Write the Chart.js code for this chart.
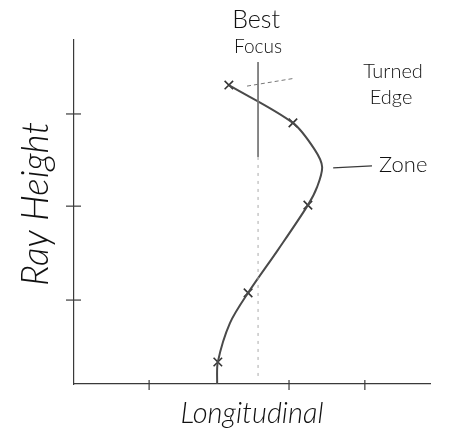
<!DOCTYPE html>
<html>
<head>
<meta charset="utf-8">
<script src="https://cdn.jsdelivr.net/npm/chart.js@4.4.1/dist/chart.umd.min.js"></script>
<style>
  html, body { margin: 0; padding: 0; background: #fff; }
  #wrap { width: 459px; height: 448px; }
</style>
</head>
<body>
<div id="wrap"><canvas id="c" width="459" height="448"></canvas></div>
<script>
// Ray-height vs. longitudinal aberration curve (arbitrary units, 0-100)
const curveX = [40.2, 40.4, 43.8, 48.9, 57.3, 65.7, 68.3, 69.7, 67.7, 61.5, 43.5];
const curveY = [0.0, 6.4, 17.7, 26.5, 39.0, 52.0, 57.3, 63.1, 68.0, 75.9, 86.9];

// Measured points marked with crosses
const markX = [40.4, 48.9, 65.7, 61.5, 43.5];
const markY = [6.4, 26.5, 52.0, 75.9, 86.9];

// Axis tick positions
const xTicks = [21.1, 60.4, 81.7];
const yTicks = [24.4, 51.7, 78.5];

// Best-focus reference line
const focusX = 51.7;
const focusTop = 93.6;
const focusSolidEnd = 66.0;
const focusSlantX = [48.6, 62.1];
const focusSlantY = [86.6, 88.9];

// Leader line for the zone label
const zoneLeadX = [72.8, 83.7];
const zoneLeadY = [62.8, 63.4];

// Labels
const labels = {
  best: 'Best', focus: 'Focus', turned: 'Turned', edge: 'Edge', zone: 'Zone',
  yTitle: 'Ray Height', xTitle: 'Longitudinal'
};

const pts = (xs, ys) => xs.map((x, i) => ({ x, y: ys[i] }));
const ink = '#3a3a3a';
const font = '"Lato", "Open Sans", sans-serif';

const sketchPlugin = {
  id: 'sketch',
  beforeDatasetsDraw(chart) {
    const { ctx, scales: { x, y } } = chart;
    ctx.save();
    ctx.strokeStyle = ink;
    ctx.lineWidth = 1.2;
    // tick crosses on the y axis
    yTicks.forEach(v => {
      const py = y.getPixelForValue(v), px = x.getPixelForValue(0);
      ctx.beginPath(); ctx.moveTo(px - 8, py); ctx.lineTo(px + 7, py); ctx.stroke();
    });
    // tick crosses on the x axis
    xTicks.forEach(v => {
      const px = x.getPixelForValue(v), py = y.getPixelForValue(0);
      ctx.beginPath(); ctx.moveTo(px, py - 4); ctx.lineTo(px, py + 6); ctx.stroke();
    });
    ctx.restore();
  },
  afterDraw(chart) {
    const { ctx, scales: { x, y } } = chart;
    ctx.save();
    ctx.fillStyle = '#111';
    ctx.textAlign = 'center';
    ctx.textBaseline = 'middle';
    const fx = x.getPixelForValue(focusX);
    ctx.font = '300 25px ' + font;
    ctx.fillText(labels.best, fx - 2, 20);
    ctx.font = '300 19px ' + font;
    ctx.fillText(labels.focus, fx, 47);
    ctx.font = '300 20px ' + font;
    ctx.fillText(labels.turned, 393, 72);
    ctx.fillText(labels.edge, 391, 98);
    ctx.font = '300 22px ' + font;
    ctx.textAlign = 'left';
    ctx.fillText(labels.zone, x.getPixelForValue(zoneLeadX[1]) + 7, y.getPixelForValue(zoneLeadY[1]) - 1);
    ctx.textAlign = 'center';
    ctx.font = 'italic 300 29px ' + font;
    ctx.fillText(labels.xTitle, 252, 414);
    ctx.translate(36, 204);
    ctx.rotate(-Math.PI / 2);
    ctx.font = 'italic 300 37px ' + font;
    ctx.fillText(labels.yTitle, 0, 0);
    ctx.restore();
  }
};

new Chart(document.getElementById('c'), {
  type: 'scatter',
  data: {
    datasets: [
      {
        label: 'focus solid',
        data: pts([focusX, focusX], [focusTop, focusSolidEnd]),
        showLine: true, borderColor: '#777', borderWidth: 1, pointRadius: 0
      },
      {
        label: 'focus dashed',
        data: pts([focusX, focusX], [focusSolidEnd, 1]),
        showLine: true, borderColor: '#aaa', borderWidth: 1, borderDash: [3, 5], pointRadius: 0
      },
      {
        label: 'focus slant',
        data: pts(focusSlantX, focusSlantY),
        showLine: true, borderColor: '#777', borderWidth: 1, borderDash: [4, 3], pointRadius: 0
      },
      {
        label: 'zone leader',
        data: pts(zoneLeadX, zoneLeadY),
        showLine: true, borderColor: ink, borderWidth: 1.2, pointRadius: 0
      },
      {
        label: 'aberration',
        data: pts(curveX, curveY),
        showLine: true, borderColor: '#4a4a4a', borderWidth: 2, tension: 0.3,
        pointRadius: 0
      },
      {
        label: 'points',
        data: pts(markX, markY),
        showLine: false, pointStyle: 'crossRot', pointRadius: 6,
        borderColor: '#333', borderWidth: 1.6
      }
    ]
  },
  options: {
    responsive: false,
    animation: false,
    layout: { padding: { left: 74, right: 29, top: 40, bottom: 64 } },
    plugins: { legend: { display: false }, tooltip: { enabled: false } },
    scales: {
      x: {
        type: 'linear', min: 0, max: 100,
        grid: { display: false, drawTicks: false },
        border: { display: true, color: ink, width: 1.2 },
        ticks: { display: false }
      },
      y: {
        type: 'linear', min: 0, max: 100,
        grid: { display: false, drawTicks: false },
        border: { display: true, color: ink, width: 1.2 },
        ticks: { display: false }
      }
    }
  },
  plugins: [sketchPlugin]
});
</script>
</body>
</html>
